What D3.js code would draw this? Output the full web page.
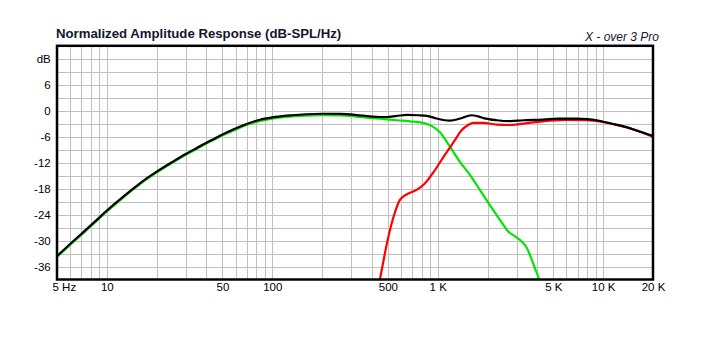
<!DOCTYPE html>
<html>
<head>
<meta charset="utf-8">
<script src="https://cdn.jsdelivr.net/npm/d3@7"></script>
<style>
  html, body { margin: 0; padding: 0; background: #fff; }
  svg { display: block; font-family: "Liberation Sans", Arial, sans-serif; }
</style>
</head>
<body>
<svg id="chart" width="710" height="338"></svg>
<script>
// Frequency (Hz) / level (dB) pairs for each curve
const totalFreq = [5,6,7,8,9,10,12,14,17,20,25,30,35,40,45,50,58,70,84,100,122,160,200,256,323,390,447,491,565,650,760,857,985,1100,1190,1370,1600,1750,1890,2270,2740,3285,4335,5345,6900,8000,9120,10977,13840,16545,20000];
const totalDb   = [-33.6,-30.8,-28.5,-26.5,-24.7,-23.1,-20.5,-18.4,-15.9,-14.1,-11.8,-10.0,-8.6,-7.4,-6.4,-5.5,-4.35,-3.05,-2.1,-1.55,-1.15,-0.82,-0.7,-0.75,-1.0,-1.3,-1.45,-1.45,-1.2,-0.95,-1.05,-1.2,-1.8,-2.2,-2.3,-1.8,-1.05,-1.3,-1.7,-2.2,-2.4,-2.2,-2.05,-1.85,-1.85,-1.95,-2.2,-2.9,-3.8,-4.8,-5.8];

const wooferFreq = [5,6,7,8,9,10,12,14,17,20,25,30,35,40,45,50,58,70,84,100,122,160,200,256,323,390,447,510,565,680,815,918,1031,1186,1361,1565,1798,2066,2377,2666,2924,3212,3443,3606,3866,4085,4200];
const wooferDb   = [-33.8,-31.0,-28.7,-26.7,-24.9,-23.3,-20.7,-18.6,-16.1,-14.3,-12.0,-10.2,-8.8,-7.6,-6.6,-5.7,-4.6,-3.3,-2.4,-1.85,-1.45,-1.15,-1.05,-1.1,-1.35,-1.65,-1.85,-2.05,-2.2,-2.45,-2.8,-3.5,-5.0,-8.3,-11.8,-14.8,-18.3,-21.8,-25.2,-27.9,-29.0,-30.2,-31.6,-33.3,-36.4,-38.8,-40.2];

const tweeterFreq = [430,448,491,538,591,620,652,745,836,962,1104,1270,1394,1528,1638,1890,2268,2730,3140,3775,4760,6010,7930,9545,12045,15180,20000];
const tweeterDb   = [-42,-38.8,-31.0,-24.8,-20.6,-19.8,-19.3,-18.3,-16.8,-13.7,-10.2,-6.8,-4.5,-3.3,-2.8,-2.8,-3.2,-3.3,-3.1,-2.7,-2.3,-2.1,-2.2,-2.5,-3.3,-4.3,-6.0];

// Axis ticks
const xTickValues = [5,10,50,100,500,1000,5000,10000,20000];
const xTickLabels = ["5 Hz","10","50","100","500","1 K","5 K","10 K","20 K"];
const yTickValues = [12,6,0,-6,-12,-18,-24,-30,-36];
const yTickLabels = ["dB","6","0","-6","-12","-18","-24","-30","-36"];

const titleText = "Normalized Amplitude Response (dB-SPL/Hz)";
const brandText = "X - over 3 Pro";

const svg = d3.select("#chart");
const plotLeft = 57, plotRight = 653, plotTop = 45.8, plotBottom = 279.5;

const x = d3.scaleLog().domain([5, 20000]).range([plotLeft, plotRight]);
const y = d3.scaleLinear().domain([-39, 15]).range([plotBottom, plotTop]);

// Grid: every 1..9 per decade, every 3 dB
const gridFreqs = [];
for (let dec = 1; dec <= 10000; dec *= 10) {
  for (let m = 1; m <= 9; m++) {
    const f = m * dec;
    if (f > 5 && f < 20000) gridFreqs.push(f);
  }
}
const gridDb = d3.range(-36, 15, 3);

const grid = svg.append("g").attr("stroke", "#c0c0c0").attr("stroke-width", 1)
  .attr("shape-rendering", "crispEdges");
grid.selectAll("line.v").data(gridFreqs).join("line").attr("class", "v")
  .attr("x1", d => Math.round(x(d)) + 0.5).attr("x2", d => Math.round(x(d)) + 0.5)
  .attr("y1", plotTop).attr("y2", plotBottom);
grid.selectAll("line.h").data(gridDb).join("line").attr("class", "h")
  .attr("y1", d => Math.round(y(d)) + 0.5).attr("y2", d => Math.round(y(d)) + 0.5)
  .attr("x1", plotLeft).attr("x2", plotRight);

// Curves, clipped to the plot frame
svg.append("clipPath").attr("id", "plotClip")
  .append("rect").attr("x", plotLeft).attr("y", plotTop)
  .attr("width", plotRight - plotLeft).attr("height", plotBottom - plotTop);

const line = d3.line()
  .x(d => x(d[0])).y(d => y(d[1]))
  .curve(d3.curveMonotoneX);

const curves = svg.append("g").attr("clip-path", "url(#plotClip)")
  .attr("fill", "none").attr("stroke-width", 2.2).attr("stroke-linejoin", "round");

curves.append("path").datum(d3.zip(wooferFreq, wooferDb))
  .attr("stroke", "#00e600").attr("d", line);
curves.append("path").datum(d3.zip(tweeterFreq, tweeterDb))
  .attr("stroke", "#ff0000").attr("d", line);
curves.append("path").datum(d3.zip(totalFreq, totalDb))
  .attr("stroke", "#000000").attr("d", line);

// Frame
svg.append("rect").attr("x", plotLeft).attr("y", plotTop)
  .attr("width", plotRight - plotLeft).attr("height", plotBottom - plotTop)
  .attr("fill", "none").attr("stroke", "#000").attr("stroke-width", 2.5);

// X axis labels
const xAxis = d3.axisBottom(x).tickValues(xTickValues)
  .tickFormat((d, i) => xTickLabels[i]).tickSize(0).tickPadding(3.3);
const gx = svg.append("g").attr("transform", `translate(0,${plotBottom})`).call(xAxis);
gx.select(".domain").remove();
gx.selectAll("text").attr("font-size", 11.5).attr("fill", "#000")
  .attr("font-family", "'Liberation Sans', Arial, sans-serif");
gx.selectAll(".tick").filter(d => d === 5).select("text")
  .attr("text-anchor", "start").attr("x", -5);

// Y axis labels
const yAxis = d3.axisLeft(y).tickValues(yTickValues)
  .tickFormat((d, i) => yTickLabels[i]).tickSize(0).tickPadding(6.3);
const gy = svg.append("g").attr("transform", `translate(${plotLeft},0)`).call(yAxis);
gy.select(".domain").remove();
gy.selectAll("text").attr("font-size", 11.5).attr("fill", "#000")
  .attr("font-family", "'Liberation Sans', Arial, sans-serif");

// Title and brand mark
svg.append("text").attr("x", 56).attr("y", 37.7)
  .attr("font-size", 13.2).attr("font-weight", "bold").attr("fill", "#151530")
  .text(titleText);
svg.append("text").attr("x", 659).attr("y", 41).attr("text-anchor", "end")
  .attr("font-size", 12).attr("font-style", "italic").attr("fill", "#151530")
  .text(brandText);
</script>
</body>
</html>
